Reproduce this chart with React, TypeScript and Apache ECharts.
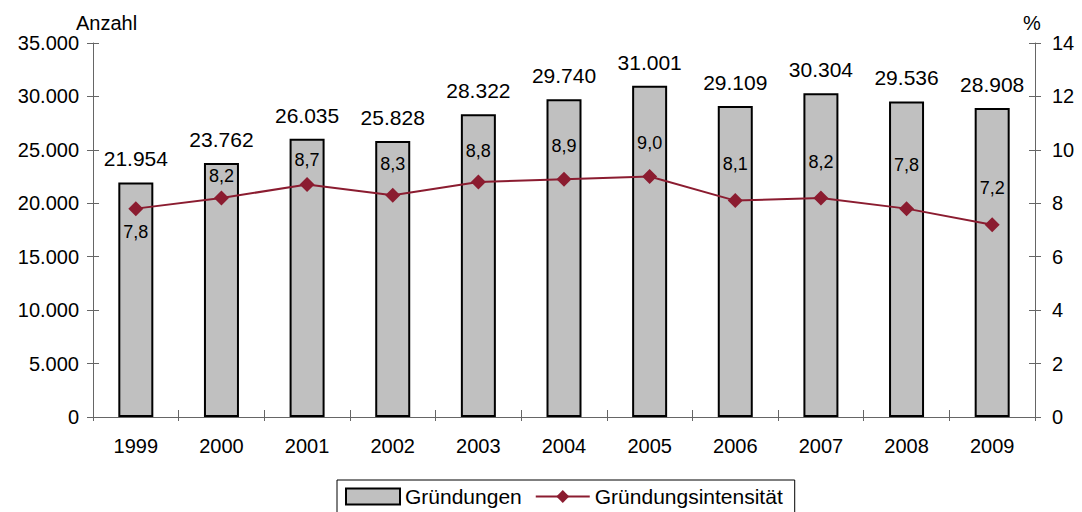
import React, { useEffect, useRef } from "react";
import * as echarts from "echarts";

const years = ["1999", "2000", "2001", "2002", "2003", "2004", "2005", "2006", "2007", "2008", "2009"];
const gruendungen = [21954, 23762, 26035, 25828, 28322, 29740, 31001, 29109, 30304, 29536, 28908];
const intensitaet = [7.8, 8.2, 8.7, 8.3, 8.8, 8.9, 9.0, 8.1, 8.2, 7.8, 7.2];
const leftTicks = { min: 0, max: 35000, interval: 5000 };
const rightTicks = { min: 0, max: 14, interval: 2 };

// label placement for the line values (layout only)
const lineLabelPos = ["bottom", "top", "top", "top", "top", "top", "top", "top", "top", "top", "top"];
const lineLabelDist = [7, 5, 8, 15, 14, 17, 17, 20, 19, 27, 20];

const FONT = "'Liberation Sans', Arial, sans-serif";
const LINE_COLOR = "#8B1C30";
const AXIS_COLOR = "#666666";

function fmtThousands(v: number): string {
  const s = Math.round(v).toString();
  return s.replace(/\B(?=(\d{3})+(?!\d))/g, ".");
}

export default function App() {
  const ref = useRef<HTMLDivElement>(null);
  useEffect(() => {
    if (!ref.current) return;
    const chart = echarts.init(ref.current, null, { renderer: "svg" });
    const axisLine = { show: true, lineStyle: { color: AXIS_COLOR, width: 1 } };
    const yBase = (pos: "left" | "right", t: any, inside: boolean, showLabel: boolean, fmt?: any) => ({
      type: "value",
      position: pos,
      min: t.min,
      max: t.max,
      interval: t.interval,
      splitLine: { show: false },
      axisLine: inside ? { show: false } : axisLine,
      axisTick: { show: true, inside, length: 6, lineStyle: { color: AXIS_COLOR } },
      axisLabel: {
        show: showLabel,
        margin: pos === "left" ? 14 : 17,
        color: "#000",
        fontSize: 20,
        fontFamily: FONT,
        formatter: fmt,
      },
    });
    chart.setOption({
      animation: false,
      backgroundColor: "#ffffff",
      grid: { left: 93, right: 47, top: 43, bottom: 95, containLabel: false },
      graphic: [
        { type: "text", left: 76, top: 13, style: { text: "Anzahl", fontSize: 20, fontFamily: FONT, fill: "#000" } },
        { type: "text", left: 1023, top: 13, style: { text: "%", fontSize: 20, fontFamily: FONT, fill: "#000" } },
      ],
      legend: {
        left: 337,
        top: 480,
        padding: [6, 12, 6, 8],
        borderColor: "#000",
        borderWidth: 1,
        itemGap: 13,
        itemWidth: 54,
        itemHeight: 16,
        textStyle: { fontSize: 21, fontFamily: FONT, color: "#000" },
        data: [
          { name: "Gründungen", icon: "rect" },
          { name: "Gründungsintensität" },
        ],
      },
      xAxis: [
        {
          type: "category",
          data: years,
          position: "bottom",
          axisLine,
          axisTick: { show: true, inside: false, length: 4, lineStyle: { color: AXIS_COLOR } },
          axisLabel: { margin: 19, color: "#000", fontSize: 20, fontFamily: FONT },
        },
        {
          type: "category",
          data: years,
          position: "bottom",
          axisLine: { show: false },
          axisTick: { show: true, inside: true, length: 7, lineStyle: { color: AXIS_COLOR } },
          axisLabel: { show: false },
        },
      ],
      yAxis: [
        yBase("left", leftTicks, false, true, (v: number) => fmtThousands(v)),
        yBase("right", rightTicks, false, true, (v: number) => String(v)),
        yBase("left", leftTicks, true, false),
        yBase("right", rightTicks, true, false),
      ],
      series: [
        {
          name: "Gründungen",
          type: "bar",
          xAxisIndex: 0,
          yAxisIndex: 0,
          data: gruendungen,
          barWidth: 35,
          itemStyle: { color: "#C0C0C0", borderColor: "#000", borderWidth: 2 },
          label: {
            show: true,
            position: "top",
            distance: 13,
            color: "#000",
            fontSize: 21,
            fontFamily: FONT,
            formatter: (p: any) => fmtThousands(p.value),
          },
          z: 2,
        },
        {
          name: "Gründungsintensität",
          type: "line",
          xAxisIndex: 0,
          yAxisIndex: 1,
          data: intensitaet.map((v, i) => ({
            value: v,
            label: { position: lineLabelPos[i], distance: lineLabelDist[i] },
          })),
          symbol: "diamond",
          symbolSize: 15,
          lineStyle: { color: LINE_COLOR, width: 2 },
          itemStyle: { color: LINE_COLOR },
          label: {
            show: true,
            color: "#000",
            fontSize: 18,
            fontFamily: FONT,
            formatter: (p: any) => String(p.value.toFixed(1)).replace(".", ","),
          },
          z: 5,
        },
      ],
    });
    return () => chart.dispose();
  }, []);
  return (
    <div
      ref={ref}
      style={{ position: "fixed", left: 0, top: 0, width: 1082, height: 512, background: "#fff" }}
    />
  );
}
